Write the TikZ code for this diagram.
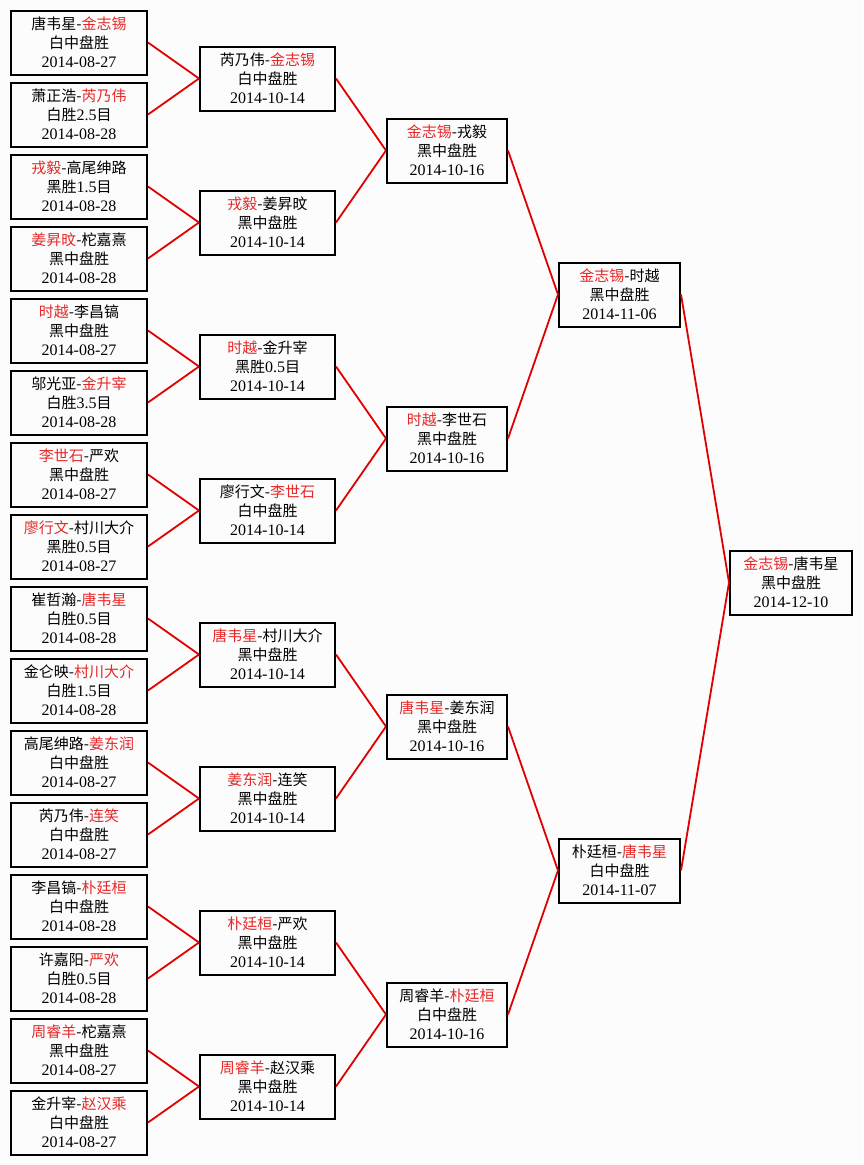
\documentclass[tikz,border=0pt]{standalone}
\usepackage{fontspec}
\setmainfont{Noto Sans CJK SC}
\newfontfamily\latf{Liberation Serif}
\definecolor{win}{RGB}{230,40,40}
\definecolor{linkred}{RGB}{225,0,0}
\definecolor{bgc}{RGB}{252,252,252}
\newcommand\W[1]{\textcolor{win}{#1}}
\newcommand\D[1]{{\latf\fontsize{16}{19}\selectfont #1}}
\tikzset{
  gbox/.style={draw=black, line width=2pt, fill=bgc, minimum height=64pt,
    inner sep=0pt, align=center, font=\fontsize{15}{19}\selectfont},
  c1/.style={gbox, minimum width=136pt},
  c2/.style={gbox, minimum width=135pt},
  c3/.style={gbox, minimum width=120pt},
  c4/.style={gbox, minimum width=121pt},
  c5/.style={gbox, minimum width=122pt},
  link/.style={draw=linkred, line width=1.8pt}
}
\begin{document}
\begin{tikzpicture}[x=1pt,y=-1pt]
\useasboundingbox (0,0) rectangle (863,1165);
\fill[bgc] (0,0) rectangle (863,1165);
% round 1
\node[c1] (a1) at (79,42.5) {唐韦星-\W{金志锡}\\白中盘胜\\\D{2014-08-27}};
\node[c1] (a2) at (79,114.5) {萧正浩-\W{芮乃伟}\\白胜\D{2.5}目\\\D{2014-08-28}};
\node[c1] (a3) at (79,186.5) {\W{戎毅}-高尾绅路\\黑胜\D{1.5}目\\\D{2014-08-28}};
\node[c1] (a4) at (79,258.5) {\W{姜昇旼}-柁嘉熹\\黑中盘胜\\\D{2014-08-28}};
\node[c1] (a5) at (79,330.5) {\W{时越}-李昌镐\\黑中盘胜\\\D{2014-08-27}};
\node[c1] (a6) at (79,402.5) {邬光亚-\W{金升宰}\\白胜\D{3.5}目\\\D{2014-08-28}};
\node[c1] (a7) at (79,474.5) {\W{李世石}-严欢\\黑中盘胜\\\D{2014-08-27}};
\node[c1] (a8) at (79,546.5) {\W{廖行文}-村川大介\\黑胜\D{0.5}目\\\D{2014-08-27}};
\node[c1] (a9) at (79,618.5) {崔哲瀚-\W{唐韦星}\\白胜\D{0.5}目\\\D{2014-08-28}};
\node[c1] (a10) at (79,690.5) {金仑映-\W{村川大介}\\白胜\D{1.5}目\\\D{2014-08-28}};
\node[c1] (a11) at (79,762.5) {高尾绅路-\W{姜东润}\\白中盘胜\\\D{2014-08-27}};
\node[c1] (a12) at (79,834.5) {芮乃伟-\W{连笑}\\白中盘胜\\\D{2014-08-27}};
\node[c1] (a13) at (79,906.5) {李昌镐-\W{朴廷桓}\\白中盘胜\\\D{2014-08-28}};
\node[c1] (a14) at (79,978.5) {许嘉阳-\W{严欢}\\白胜\D{0.5}目\\\D{2014-08-28}};
\node[c1] (a15) at (79,1050.5) {\W{周睿羊}-柁嘉熹\\黑中盘胜\\\D{2014-08-27}};
\node[c1] (a16) at (79,1122.5) {金升宰-\W{赵汉乘}\\白中盘胜\\\D{2014-08-27}};
% round 2
\node[c2] (b1) at (267.5,78.5) {芮乃伟-\W{金志锡}\\白中盘胜\\\D{2014-10-14}};
\node[c2] (b2) at (267.5,222.5) {\W{戎毅}-姜昇旼\\黑中盘胜\\\D{2014-10-14}};
\node[c2] (b3) at (267.5,366.5) {\W{时越}-金升宰\\黑胜\D{0.5}目\\\D{2014-10-14}};
\node[c2] (b4) at (267.5,510.5) {廖行文-\W{李世石}\\白中盘胜\\\D{2014-10-14}};
\node[c2] (b5) at (267.5,654.5) {\W{唐韦星}-村川大介\\黑中盘胜\\\D{2014-10-14}};
\node[c2] (b6) at (267.5,798.5) {\W{姜东润}-连笑\\黑中盘胜\\\D{2014-10-14}};
\node[c2] (b7) at (267.5,942.5) {\W{朴廷桓}-严欢\\黑中盘胜\\\D{2014-10-14}};
\node[c2] (b8) at (267.5,1086.5) {\W{周睿羊}-赵汉乘\\黑中盘胜\\\D{2014-10-14}};
% round 3
\node[c3] (d1) at (447,150.5) {\W{金志锡}-戎毅\\黑中盘胜\\\D{2014-10-16}};
\node[c3] (d2) at (447,438.5) {\W{时越}-李世石\\黑中盘胜\\\D{2014-10-16}};
\node[c3] (d3) at (447,726.5) {\W{唐韦星}-姜东润\\黑中盘胜\\\D{2014-10-16}};
\node[c3] (d4) at (447,1014.5) {周睿羊-\W{朴廷桓}\\白中盘胜\\\D{2014-10-16}};
% semifinal
\node[c4] (e1) at (619.5,294.5) {\W{金志锡}-时越\\黑中盘胜\\\D{2014-11-06}};
\node[c4] (e2) at (619.5,870.5) {朴廷桓-\W{唐韦星}\\白中盘胜\\\D{2014-11-07}};
% final
\node[c5] (f1) at (791,582.5) {\W{金志锡}-唐韦星\\黑中盘胜\\\D{2014-12-10}};
% connectors
\foreach \p [evaluate=\p as \ca using int(2*\p-1), evaluate=\p as \cb using int(2*\p)] in {1,...,8} {
  \draw[link] (a\ca.east) -- (b\p.west);
  \draw[link] (a\cb.east) -- (b\p.west);
}
\foreach \p [evaluate=\p as \ca using int(2*\p-1), evaluate=\p as \cb using int(2*\p)] in {1,...,4} {
  \draw[link] (b\ca.east) -- (d\p.west);
  \draw[link] (b\cb.east) -- (d\p.west);
}
\foreach \p [evaluate=\p as \ca using int(2*\p-1), evaluate=\p as \cb using int(2*\p)] in {1,2} {
  \draw[link] (d\ca.east) -- (e\p.west);
  \draw[link] (d\cb.east) -- (e\p.west);
}
\draw[link] (e1.east) -- (f1.west);
\draw[link] (e2.east) -- (f1.west);
\end{tikzpicture}
\end{document}
